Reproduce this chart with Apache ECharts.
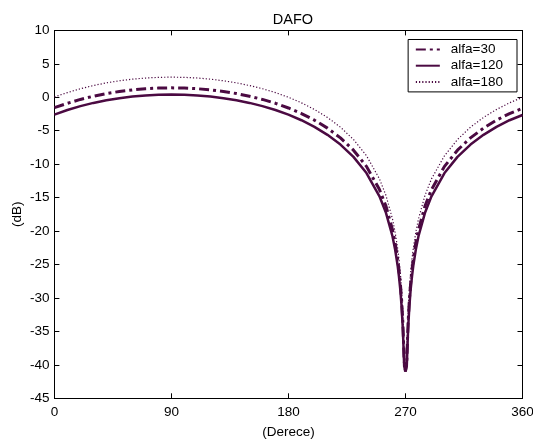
<!DOCTYPE html>
<html>
<head>
<meta charset="utf-8">
<script src="https://cdn.jsdelivr.net/npm/echarts@6/dist/echarts.min.js"></script>
<style>
  html, body { margin: 0; padding: 0; background: #fff; }
  #chart { width: 533px; height: 440px; }
</style>
</head>
<body>
<div id="chart"></div>
<script>
// Direction angle in degrees
const angles = [0, 10, 20, 30, 40, 50, 60, 70, 80, 90, 100, 110, 120, 130, 140, 150, 160, 170, 180,
  190, 200, 210, 220, 230, 240, 250, 255, 260, 262, 264, 265, 266, 267, 268, 269, 270,
  271, 272, 273, 274, 275, 276, 278, 280, 285, 290, 300, 310, 320, 330, 340, 350, 360];

// Gain in dB for each alfa
const alfa30 = [-1.55, -0.90, -0.32, 0.16, 0.56, 0.87, 1.11, 1.28, 1.38, 1.41, 1.38, 1.28, 1.11, 0.87, 0.56, 0.16, -0.32, -0.90, -1.60,
  -2.43, -3.42, -4.61, -6.07, -7.91, -10.33, -13.80, -16.27, -19.78, -21.72, -24.21, -25.80, -27.73, -30.23, -33.75, -39.4, -41.0,
  -39.4, -33.75, -30.23, -27.73, -25.80, -24.21, -21.72, -19.78, -16.27, -13.80, -10.33, -7.91, -6.07, -4.61, -3.42, -2.43, -1.65];

const alfa120 = [-2.60, -1.90, -1.32, -0.84, -0.44, -0.13, 0.11, 0.28, 0.38, 0.41, 0.38, 0.28, 0.11, -0.13, -0.44, -0.84, -1.32, -1.90, -2.60,
  -3.43, -4.42, -5.61, -7.07, -8.91, -11.33, -14.80, -17.27, -20.78, -22.72, -25.21, -26.80, -28.73, -31.23, -34.75, -40.2, -41.0,
  -40.2, -34.75, -31.23, -28.73, -26.80, -25.21, -22.72, -20.78, -17.27, -14.80, -11.33, -8.91, -7.07, -5.61, -4.42, -3.43, -2.65];

const alfa180 = [0.05, 0.70, 1.28, 1.76, 2.16, 2.47, 2.71, 2.88, 2.98, 3.01, 2.98, 2.88, 2.71, 2.47, 2.16, 1.76, 1.28, 0.70, 0.00,
  -0.83, -1.82, -3.01, -4.47, -6.31, -8.73, -12.20, -14.67, -18.18, -20.12, -22.61, -24.20, -26.13, -28.63, -32.15, -38.2, -41.0,
  -38.2, -32.15, -28.63, -26.13, -24.20, -22.61, -20.12, -18.18, -14.67, -12.20, -8.73, -6.31, -4.47, -3.01, -1.82, -0.83, 0.00];

const xTicks = [0, 90, 180, 270, 360];
const yMin = -45, yMax = 10, yStep = 5;

const ink = '#4b0a42';
const font = '"Liberation Sans", Arial, sans-serif';

const pairs = vals => angles.map((a, i) => [a, vals[i]]);

const chart = echarts.init(document.getElementById('chart'), null, { renderer: 'canvas' });

const baseX = {
  type: 'value', min: 0, max: 360, interval: 90,
  splitLine: { show: false },
  axisLine: { show: true, onZero: false, lineStyle: { color: '#000', width: 1 } },
  axisTick: { show: true, inside: true, length: 5, lineStyle: { color: '#000' } }
};
const baseY = {
  type: 'value', min: yMin, max: yMax, interval: yStep,
  splitLine: { show: false },
  axisLine: { show: true, onZero: false, lineStyle: { color: '#000', width: 1 } },
  axisTick: { show: true, inside: true, length: 5, lineStyle: { color: '#000' } }
};

chart.setOption({
  animation: false,
  backgroundColor: '#fff',
  textStyle: { fontFamily: font },
  title: {
    text: 'DAFO',
    left: 288, top: 7, textAlign: 'center',
    textStyle: { fontFamily: font, fontSize: 14.5, fontWeight: 'normal', color: '#000' }
  },
  grid: {
    left: 54.4, right: 10.5, top: 30.4, bottom: 41.7,
    containLabel: false, outerBoundsMode: 'none'
  },
  xAxis: [
    Object.assign({}, baseX, {
      position: 'bottom',
      name: '(Derece)', nameLocation: 'middle', nameGap: 27, nameMoveOverlap: false,
      nameTextStyle: { fontFamily: font, fontSize: 13.5, color: '#000' },
      axisLabel: {
        margin: 7, color: '#000', fontFamily: font, fontSize: 13.5,
        formatter: v => (xTicks.includes(v) ? String(v) : '')
      }
    }),
    Object.assign({}, baseX, { position: 'top', axisLabel: { show: false } })
  ],
  yAxis: [
    Object.assign({}, baseY, {
      position: 'left',
      name: '(dB)', nameLocation: 'middle', nameGap: 30, nameRotate: 90, nameMoveOverlap: false,
      nameTextStyle: { fontFamily: font, fontSize: 13.5, color: '#000' },
      axisLabel: { margin: 5, color: '#000', fontFamily: font, fontSize: 13.5 }
    }),
    Object.assign({}, baseY, { position: 'right', axisLabel: { show: false } })
  ],
  legend: {
    orient: 'vertical',
    right: 16, top: 39.5,
    backgroundColor: '#fff',
    borderColor: '#000', borderWidth: 1, borderRadius: 0,
    padding: [3, 14, 3, 6.7],
    itemWidth: 24, itemHeight: 14, itemGap: 2.2,
    // line-only keys: hide the marker drawn on top of each key line
    itemStyle: { opacity: 0, borderWidth: 0 },
    textStyle: { fontFamily: font, fontSize: 13.5, color: '#000', padding: [0, 0, 0, 6] },
    data: ['alfa=30', 'alfa=120', 'alfa=180']
  },
  series: [
    {
      name: 'alfa=30', type: 'line', data: pairs(alfa30),
      xAxisIndex: 0, yAxisIndex: 0,
      showSymbol: false, symbol: 'none', smooth: false,
      lineStyle: { color: ink, width: 3, type: [10, 4, 3, 4], cap: 'butt' },
      itemStyle: { color: ink }
    },
    {
      name: 'alfa=120', type: 'line', data: pairs(alfa120),
      xAxisIndex: 0, yAxisIndex: 0,
      showSymbol: false, symbol: 'none', smooth: false,
      lineStyle: { color: ink, width: 2.5, type: 'solid' },
      itemStyle: { color: ink }
    },
    {
      name: 'alfa=180', type: 'line', data: pairs(alfa180),
      xAxisIndex: 0, yAxisIndex: 0,
      showSymbol: false, symbol: 'none', smooth: false,
      lineStyle: { color: ink, width: 1.2, type: [1.2, 2] },
      itemStyle: { color: ink }
    }
  ]
});
</script>
</body>
</html>
